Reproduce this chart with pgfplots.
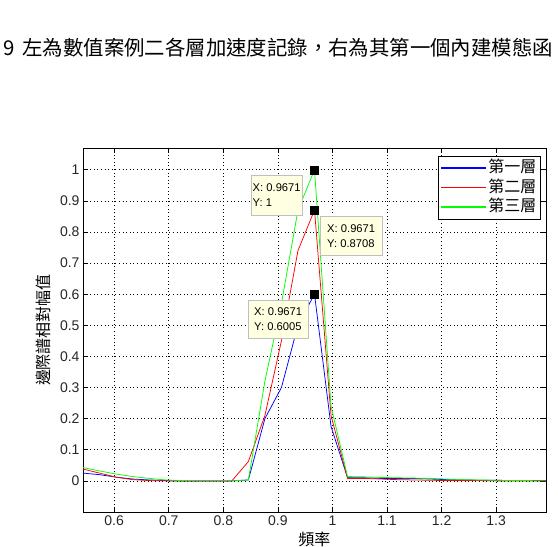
\documentclass[border=0pt]{standalone}
\usepackage{fontspec}
\setmainfont{Liberation Sans}
\newfontfamily\cjk{Noto Sans CJK TC}
\usepackage{pgfplots}
\usepackage{pgfplotstable}
\pgfplotsset{compat=1.18}
\definecolor{tipbg}{RGB}{255,255,225}

\pgfplotstableread{
x       blue    red     green
0.5429  0.025   0.038   0.043
0.5732  0.020   0.025   0.032
0.6035  0.012   0.012   0.022
0.6338  0.006   0.004   0.014
0.6641  0.003   0.001   0.008
0.6944  0.001   0.000   0.003
0.7247  0.000   0.000   0.001
0.7550  0.000   0.000   0.000
0.7853  0.000   0.000   0.000
0.8156  0.000   0.000   0.000
0.8459  0.003   0.062   0.003
0.8762  0.200   0.210   0.320
0.9065  0.300   0.450   0.570
0.9368  0.500   0.740   0.870
0.9671  0.6005  0.8708  1.000
0.9974  0.175   0.210   0.240
1.0277  0.010   0.008   0.014
1.0580  0.010   0.008   0.013
1.0883  0.008   0.006   0.011
1.1186  0.008   0.004   0.010
1.1489  0.008   0.003   0.009
1.1792  0.006   0.002   0.008
1.2095  0.004   0.001   0.006
1.2398  0.003   0.001   0.004
1.2701  0.002   0.001   0.003
1.3004  0.002   0.000   0.002
1.3307  0.001   0.000   0.001
1.3610  0.001   0.000   0.001
1.3913  0.001   0.000   0.000
}\spectrum

\begin{document}
\begin{tikzpicture}
\useasboundingbox (0pt,0pt) rectangle (558pt,547pt);
\node[anchor=base west, inner sep=0pt, font=\cjk\fontsize{20.4}{24}\selectfont] at (3pt,491pt)
  {9\hspace{8pt}左為數值案例二各層加速度記錄，右為其第一個內建模態函};
\begin{axis}[
  at={(83pt,35pt)}, anchor=south west,
  scale only axis, width=463pt, height=364pt,
  xmin=0.5429, xmax=1.3913, ymin=-0.1, ymax=1.07,
  xtick={0.6,0.7,0.8,0.9,1,1.1,1.2,1.3},
  ytick={0,0.1,0.2,0.3,0.4,0.5,0.6,0.7,0.8,0.9,1},
  /pgf/number format/assume math mode=true,
  tick label style={font=\fontsize{14}{16}\selectfont, text=black!85},
  tick align=inside, major tick length=5pt,
  tick style={black, line width=0.6pt},
  axis line style={black, line width=0.7pt},
  grid=major,
  major grid style={black, line width=0.6pt, dash pattern=on 1pt off 2.6pt},
  xlabel={\cjk 頻率}, ylabel={\cjk 邊際譜相對幅值},
  label style={font=\fontsize{16}{18}\selectfont},
  xlabel style={at={(axis description cs:0.5,-0.0742)}, anchor=center},
  ylabel style={at={(axis description cs:-0.0864,0.5)}, anchor=center},
  legend style={at={(0.987,0.978)}, anchor=north east, fill=white,
    font=\cjk\fontsize{16}{19}\selectfont, inner xsep=2pt, inner ysep=2pt,
    row sep=0pt,
    nodes={inner sep=1.5pt, text height=13pt, text depth=3.5pt}},
  legend cell align=left,
  legend image code/.code={\draw[#1, line width=1.1pt] (0pt,0pt) -- (45pt,0pt);},
]
\addplot[color=blue, line width=0.75pt] table[x=x, y=blue] {\spectrum};
\addlegendentry{第一層}
\addplot[color=red, line width=0.75pt] table[x=x, y=red] {\spectrum};
\addlegendentry{第二層}
\addplot[color=green, line width=0.75pt] table[x=x, y=green] {\spectrum};
\addlegendentry{第三層}
\addplot[only marks, mark=square*, mark size=4pt, black, forget plot]
  coordinates {(0.9671,1) (0.9671,0.8708) (0.9671,0.6005)};
\end{axis}
\begin{scope}[every node/.style={draw=black!25, fill=tipbg, inner sep=0pt, align=left,
    font=\fontsize{11.2}{15}\selectfont, anchor=north west}]
\node[minimum width=51pt, minimum height=40pt] at (251pt,372pt) {X: 0.9671\\Y: 1};
\node[minimum width=62pt, minimum height=39pt] at (320pt,331pt) {X: 0.9671\\Y: 0.8708};
\node[minimum width=60pt, minimum height=38pt] at (248pt,247pt) {X: 0.9671\\Y: 0.6005};
\end{scope}
\end{tikzpicture}
\end{document}
